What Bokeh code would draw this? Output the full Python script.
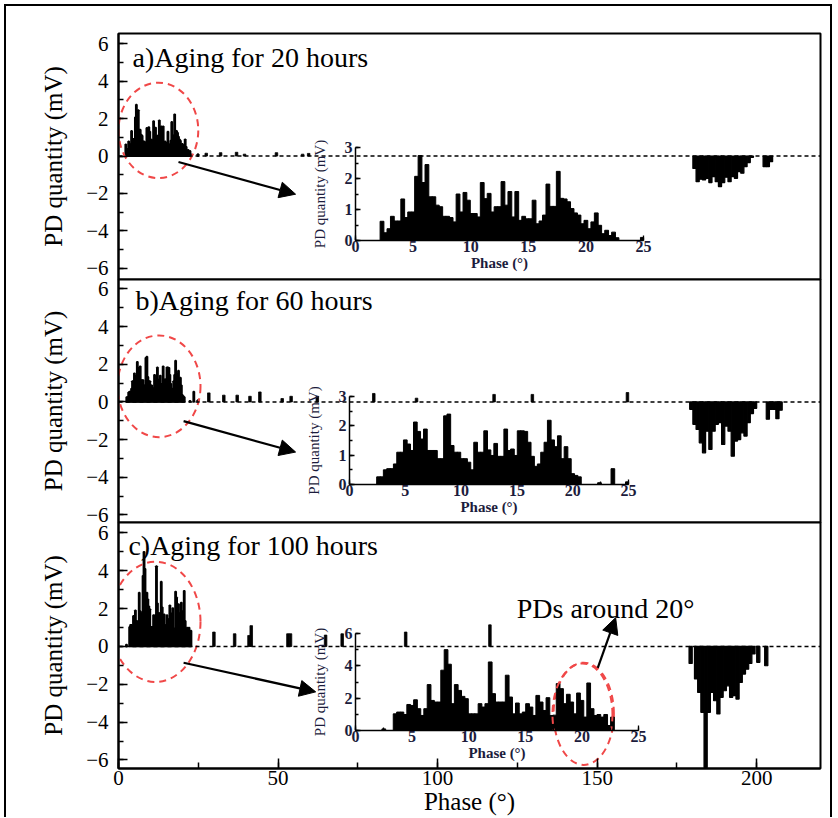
from bokeh.plotting import figure
from bokeh.models import (Range1d, SingleIntervalTicker, Span, Label, Arrow,
                          NormalHead, Column)
from bokeh.embed import file_html
from bokeh.resources import INLINE

FONT = "Liberation Serif"
RED = "#f04848"
INK = "#1c1c3c"

# ---------------- data (phase in degrees, PD quantity in mV) ----------------
# inset a: 0-25 deg detail, aging 20 h
INSET_A_PHASE = [2.3, 2.6, 2.9, 3.2, 3.5, 3.8, 4.1, 4.4, 4.7, 5.0,
                 5.3, 5.6, 5.9, 6.2, 6.5, 6.8, 7.1, 7.4, 7.7, 8.0,
                 8.3, 8.6, 8.9, 9.2, 9.5, 9.8, 10.1, 10.4, 10.7, 11.0,
                 11.3, 11.6, 11.9, 12.2, 12.5, 12.8, 13.1, 13.4, 13.7, 14.0,
                 14.3, 14.6, 14.9, 15.2, 15.5, 15.8, 16.1, 16.4, 16.7, 17.0,
                 17.3, 17.6, 17.9, 18.2, 18.5, 18.8, 19.1, 19.4, 19.7, 20.0,
                 20.3, 20.6, 20.9, 21.2, 21.5, 21.8, 22.1, 22.4, 22.7, 24.9]
INSET_A_PD = [0.62, 0.25, 0.38, 0.78, 0.63, 0.63, 1.34, 0.74, 0.92, 0.92,
              2.07, 2.74, 1.87, 2.45, 1.41, 1.41, 1.14, 1.09, 0.78, 0.78,
              0.74, 0.60, 1.50, 0.92, 1.55, 1.30, 0.87, 0.87, 0.76, 1.87,
              1.35, 1.52, 0.92, 1.09, 1.09, 1.90, 1.14, 1.58, 0.76, 1.58,
              0.65, 0.78, 0.70, 0.70, 1.30, 0.54, 0.63, 0.82, 1.82, 1.10,
              1.10, 2.23, 1.36, 1.34, 1.25, 1.03, 0.89, 0.82, 0.54, 0.65,
              0.38, 0.60, 0.89, 0.49, 0.22, 0.33, 0.16, 0.27, 0.09, 0.10]

# inset b: aging 60 h
INSET_B_PHASE = [2.6, 2.9, 3.2, 3.5, 3.8, 4.1, 4.4, 4.7, 5.0, 5.3,
                 5.6, 5.9, 6.2, 6.5, 6.8, 7.1, 7.4, 7.7, 8.0, 8.3,
                 8.6, 8.9, 9.2, 9.5, 9.8, 10.1, 10.4, 10.7, 11.0, 11.3,
                 11.6, 11.9, 12.2, 12.5, 12.8, 13.1, 13.4, 13.7, 14.0, 14.3,
                 14.6, 14.9, 15.2, 15.5, 15.8, 16.1, 16.4, 16.7, 17.0, 17.3,
                 17.6, 17.9, 18.2, 18.5, 18.8, 19.1, 19.4, 19.7, 20.0, 20.3,
                 20.6, 22.4, 23.6, 24.9]
INSET_B_PD = [0.26, 0.26, 0.50, 0.54, 0.54, 0.70, 1.10, 1.10, 1.52, 1.38,
              1.16, 2.13, 1.81, 1.55, 1.89, 1.16, 1.16, 1.16, 0.88, 0.88,
              2.34, 2.40, 1.33, 1.10, 1.10, 0.88, 0.88, 0.76, 0.50, 1.44,
              1.10, 1.10, 1.83, 1.18, 0.99, 1.40, 0.96, 0.96, 1.89, 1.16,
              1.21, 0.99, 1.83, 1.83, 1.81, 1.44, 0.96, 0.62, 0.70, 1.10,
              1.44, 2.19, 1.52, 1.29, 1.66, 0.88, 1.29, 0.88, 0.37, 0.31,
              0.26, 0.06, 0.54, 0.09]

# inset c: aging 100 h
INSET_C_PHASE = [2.5, 3.5, 3.8, 4.1, 4.4, 4.7, 5.0, 5.3, 5.6, 5.9,
                 6.2, 6.5, 6.8, 7.1, 7.4, 7.7, 8.0, 8.3, 8.6, 8.9,
                 9.2, 9.5, 9.8, 10.1, 10.4, 10.7, 11.0, 11.3, 11.6, 11.9,
                 12.2, 12.5, 12.8, 13.1, 13.4, 13.7, 14.0, 14.3, 14.6, 14.9,
                 15.2, 15.5, 15.8, 16.1, 16.4, 16.7, 17.0, 17.3, 17.6, 17.9,
                 18.2, 18.5, 18.8, 19.1, 19.4, 19.7, 20.0, 20.3, 20.6, 20.9,
                 21.2, 21.5, 21.8, 22.1, 22.4, 22.7]
INSET_C_PD = [0.10, 1.03, 1.14, 1.14, 0.99, 1.61, 1.55, 1.90, 1.35, 0.93,
              1.35, 2.84, 1.86, 1.76, 1.76, 3.73, 5.00, 4.10, 1.66, 2.84,
              2.48, 2.11, 1.97, 1.03, 1.03, 1.03, 1.66, 1.45, 1.66, 4.24,
              2.28, 1.76, 1.76, 1.76, 3.42, 2.07, 1.03, 1.70, 1.03, 1.14,
              1.66, 1.45, 0.93, 2.17, 1.76, 1.24, 2.03, 0.93, 0.95, 2.90,
              2.59, 1.66, 2.24, 1.76, 1.03, 2.32, 1.86, 0.83, 2.94, 1.35,
              0.93, 0.99, 0.83, 0.99, 0.31, 0.83]

# sparse positive pulses beyond 25 deg (main panels)
SPARSE_A_PHASE = [27.5, 32.0, 37.0, 39.5, 49.5, 57.7, 59.6]
SPARSE_A_PD = [0.15, 0.18, 0.20, 0.10, 0.18, 0.10, 0.14]
SPARSE_B_PHASE = [28.3, 33.0, 37.2, 41.2, 44.3, 51.3, 54.1, 62.3, 80.0,
                  93.4, 117.7, 129.7, 159.5]
SPARSE_B_PD = [0.48, 0.36, 0.36, 0.30, 0.53, 0.18, 0.30, 0.30, 0.45,
               0.20, 0.40, 0.40, 0.50]
SPARSE_C_PHASE = [29.9, 36.4, 40.9, 41.6, 53.1, 53.9, 64.9, 70.1, 90.0, 116.4]
SPARSE_C_PD = [0.76, 0.67, 0.58, 1.10, 0.67, 0.67, 0.60, 0.67, 0.76, 1.14]

# negative half-cycle pulses (main panels)
NEG_A_PHASE = [180.5, 181.5, 182.5, 183.5, 184.5, 185.5, 186.5, 187.5,
               188.5, 189.5, 190.5, 191.5, 192.5, 193.5, 194.5, 195.5,
               196.5, 197.5, 198.5, 202.5, 203.5, 204.5]
NEG_A_PD = [-0.66, -1.37, -1.24, -1.28, -1.19, -1.42, -1.10, -1.37,
            -1.63, -1.42, -1.13, -1.37, -1.10, -1.19, -0.83, -0.92,
            -0.57, -0.35, -0.07, -0.57, -0.57, -0.30]
NEG_B_PHASE = [179.5, 180.5, 181.5, 182.5, 183.5, 184.5, 185.5, 186.5,
               187.5, 188.5, 189.5, 190.5, 191.5, 192.5, 193.5, 194.5,
               195.5, 196.5, 197.5, 198.5, 199.5, 203.5, 204.5, 205.5,
               206.5, 207.5]
NEG_B_PD = [-0.39, -1.19, -1.46, -2.17, -2.70, -1.55, -2.52, -1.55,
            -1.19, -1.10, -2.26, -1.28, -1.55, -2.88, -2.08, -2.00,
            -1.64, -1.81, -1.10, -0.62, -0.34, -0.92, -0.39, -0.39,
            -0.89, -0.44]
NEG_C_PHASE = [179.3, 181.0, 182.0, 183.0, 184.0, 185.0, 186.0, 187.0,
               188.0, 189.0, 190.0, 191.0, 192.0, 193.0, 194.0, 195.0,
               196.0, 197.0, 198.0, 199.0, 200.5, 203.0]
NEG_C_PD = [-0.90, -1.72, -2.43, -3.48, -6.40, -3.48, -2.43, -2.87,
            -3.57, -2.69, -2.34, -2.08, -2.69, -2.60, -2.78, -1.90,
            -1.46, -1.20, -0.90, -0.40, -0.84, -1.02]

TITLES = ["a)Aging for 20 hours", "b)Aging for 60 hours", "c)Aging for 100 hours"]
Y_TICKS_MAIN = 2
X_TICKS_MAIN = 50

BORDER_L = 112
BORDER_R = 10


def bars(p, x, top, width, lw):
    p.vbar(x=x, top=top, bottom=0, width=width, fill_color="black",
           line_color="black", line_width=lw)


def main_panel(frame_h, y_lo, y_hi, top, bottom, with_x, shift):
    kw = {}
    if shift:
        kw["styles"] = {"margin-top": f"-{shift}px"}
    p = figure(width=BORDER_L + 702 + BORDER_R, height=top + frame_h + bottom,
               x_range=Range1d(0, 220), y_range=Range1d(y_lo, y_hi),
               output_backend="svg", toolbar_location=None,
               x_axis_location="below" if with_x else None,
               min_border_left=BORDER_L, min_border_right=BORDER_R,
               min_border_top=top, min_border_bottom=bottom, **kw)
    p.xgrid.visible = False
    p.ygrid.visible = False
    p.outline_line_color = "black"
    p.outline_line_width = 2
    p.outline_line_alpha = 1
    p.background_fill_color = "white"
    p.border_fill_color = "white"
    if shift:
        p.border_fill_alpha = 0
    ax = p.yaxis[0]
    ax.ticker = SingleIntervalTicker(interval=Y_TICKS_MAIN, num_minor_ticks=2)
    ax.axis_label = "PD quantity (mV)"
    ax.axis_label_text_font = FONT
    ax.axis_label_text_font_size = "25px"
    ax.axis_label_text_font_style = "normal"
    ax.axis_label_text_color = "black"
    ax.axis_label_standoff = 16
    ax.major_label_text_font = FONT
    ax.major_label_text_font_size = "21px"
    ax.major_label_text_color = "black"
    ax.major_label_standoff = 10
    ax.major_tick_in = 9
    ax.major_tick_out = 0
    ax.minor_tick_in = 5
    ax.minor_tick_out = 0
    ax.axis_line_width = 2
    ax.major_tick_line_width = 1.5
    ax.minor_tick_line_width = 1.5
    if with_x:
        xa = p.xaxis[0]
        xa.ticker = SingleIntervalTicker(interval=X_TICKS_MAIN, num_minor_ticks=2)
        xa.axis_label = "Phase (°)"
        xa.axis_label_text_font = FONT
        xa.axis_label_text_font_size = "25px"
        xa.axis_label_text_font_style = "normal"
        xa.axis_label_text_color = "black"
        xa.axis_label_standoff = 0
        xa.major_label_text_font = FONT
        xa.major_label_text_font_size = "21px"
        xa.major_label_text_color = "black"
        xa.major_label_standoff = 2
        xa.major_tick_in = 10
        xa.major_tick_out = 0
        xa.minor_tick_in = 6
        xa.minor_tick_out = 0
        xa.axis_line_width = 2
        xa.major_tick_line_width = 1.5
        xa.minor_tick_line_width = 1.5
    p.add_layout(Span(location=0, dimension="width", line_color="black",
                      line_width=1.5, line_dash="4 3"))
    return p


def inset(phase, pd, y_hi, y_int, frame_w, frame_h, top, left):
    p = figure(width=BORDER_L + frame_w + BORDER_R, height=18 + frame_h + 42,
               x_range=Range1d(0, 25), y_range=Range1d(0, y_hi),
               output_backend="svg", toolbar_location=None,
               min_border_left=BORDER_L, min_border_right=BORDER_R,
               min_border_top=18, min_border_bottom=42,
               styles={"position": "absolute", "left": f"{left}px",
                       "top": f"{top}px"})
    p.background_fill_alpha = 0
    p.border_fill_alpha = 0
    p.outline_line_color = None
    p.xgrid.visible = False
    p.ygrid.visible = False
    xa = p.xaxis[0]
    xa.ticker = SingleIntervalTicker(interval=5, num_minor_ticks=2)
    xa.axis_label = "Phase (°)"
    xa.axis_label_text_font_style = "bold"
    xa.axis_label_text_font_size = "15px"
    xa.axis_label_standoff = 0
    xa.major_label_standoff = 0
    xa.major_tick_in = 5
    xa.major_tick_out = 0
    xa.minor_tick_in = 3
    xa.minor_tick_out = 0
    ya = p.yaxis[0]
    ya.ticker = SingleIntervalTicker(interval=y_int, num_minor_ticks=2)
    ya.axis_label = "PD quantity (mV)"
    ya.axis_label_text_font_style = "normal"
    ya.axis_label_text_font_size = "15px"
    ya.axis_label_standoff = 14
    ya.major_label_standoff = 3
    ya.major_tick_in = 5
    ya.major_tick_out = 0
    ya.minor_tick_in = 3
    ya.minor_tick_out = 0
    for a in (xa, ya):
        a.axis_label_text_font = FONT
        a.axis_label_text_color = INK
        a.major_label_text_font = FONT
        a.major_label_text_font_size = "16px"
        a.major_label_text_font_style = "bold"
        a.major_label_text_color = INK
        a.axis_line_width = 1.5
        a.major_tick_line_width = 1.3
        a.minor_tick_line_width = 1.3
    bars(p, phase, pd, 0.33, 1.0)
    return p


def title(p, x, y, text):
    p.add_layout(Label(x=x, y=y, text=text, text_font=FONT,
                       text_font_size="28px", text_baseline="middle",
                       text_color="black"))


def red_ellipse(p, x, y, w, h):
    p.ellipse(x=x, y=y, width=w, height=h, fill_color=None,
              line_color=RED, line_width=2, line_dash="7 5")


def arrow(p, x0, y0, x1, y1):
    p.add_layout(Arrow(x_start=x0, y_start=y0, x_end=x1, y_end=y1,
                       line_color="black", line_width=2.2,
                       end=NormalHead(size=16, fill_color="black",
                                      line_color="black")))


# ---------------- panel a ----------------
pa = main_panel(246, -6.6, 6.55, 27, 14, False, 0)
bars(pa, INSET_A_PHASE, INSET_A_PD, 0.33, 1.8)
bars(pa, SPARSE_A_PHASE, SPARSE_A_PD, 0.8, 0.8)
bars(pa, NEG_A_PHASE, NEG_A_PD, 1.0, 1.2)
red_ellipse(pa, 12.5, 1.37, 25, 5.1)
arrow(pa, 18.8, -0.32, 55.5, -2.04)
title(pa, 4.4, 5.25, TITLES[0])

# ---------------- panel b ----------------
pb = main_panel(243, -6.4, 6.5, 14, 14, False, 28)
bars(pb, INSET_B_PHASE, INSET_B_PD, 0.33, 1.8)
bars(pb, SPARSE_B_PHASE, SPARSE_B_PD, 0.8, 0.8)
bars(pb, NEG_B_PHASE, NEG_B_PD, 1.0, 1.2)
red_ellipse(pb, 12.7, 0.83, 26, 5.4)
arrow(pb, 20.4, -1.02, 55.5, -2.66)
title(pb, 5.3, 5.38, TITLES[1])

# ---------------- panel c ----------------
pc = main_panel(246, -6.45, 6.55, 14, 49, True, 28)
bars(pc, INSET_C_PHASE, INSET_C_PD, 0.33, 1.8)
bars(pc, SPARSE_C_PHASE, SPARSE_C_PD, 0.8, 0.8)
bars(pc, NEG_C_PHASE, NEG_C_PD, 1.0, 1.2)
red_ellipse(pc, 11.6, 1.3, 28.2, 6.35)
red_ellipse(pc, 145.8, -3.56, 18.9, 5.4)
arrow(pc, 20.4, -0.86, 61.8, -2.4)
arrow(pc, 150.2, -1.13, 155.8, 1.52)
title(pc, 3.1, 5.33, TITLES[2])
pc.add_layout(Label(x=124.8, y=2.0, text="PDs around 20°", text_font=FONT,
                    text_font_size="28px", text_baseline="middle",
                    text_color="black"))

# ---------------- insets (overlaid, absolutely positioned) ----------------
ia = inset(INSET_A_PHASE, INSET_A_PD, 3, 1, 288, 93, 123, 237)
ib = inset(INSET_B_PHASE, INSET_B_PD, 3, 1, 279, 88, 372, 231)
ic = inset(INSET_C_PHASE, INSET_C_PD, 6, 2, 283, 97, 609, 237)
red_ellipse(ic, 20.05, 0.99, 5.3, 6.33)

layout = Column(children=[pa, pb, pc, ia, ib, ic],
                styles={"position": "relative",
                        "margin-left": "4px", "margin-top": "4px",
                        "border-left": "2px solid black",
                        "border-top": "2px solid black",
                        "border-right": "2px solid black"})

open("out.html", "w").write(file_html(layout, INLINE))
